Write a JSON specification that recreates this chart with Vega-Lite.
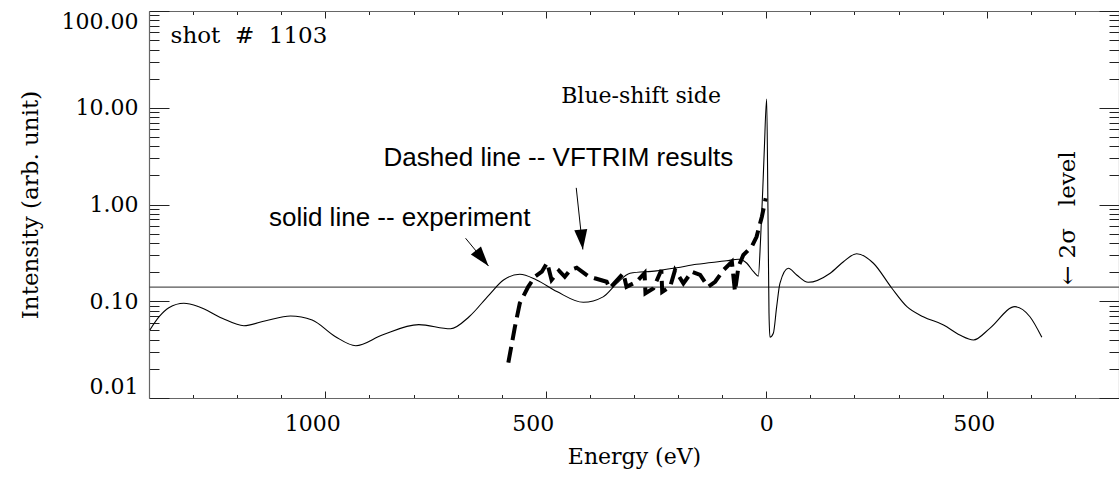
{
  "$schema": "https://vega.github.io/schema/vega-lite/v6.json",
  "width": 970,
  "height": 387,
  "autosize": "none",
  "padding": {"left": 149, "top": 11, "right": 0, "bottom": 82},
  "background": "white",
  "config": {"view": {"stroke": null}, "axis": {"grid": false}},
  "datasets": {
    "experiment": [
      {"E": -1398, "I": 0.0505}, {"E": -1377, "I": 0.0692}, {"E": -1355, "I": 0.0857}, {"E": -1321, "I": 0.0953},
      {"E": -1287, "I": 0.0879}, {"E": -1234, "I": 0.0667}, {"E": -1185, "I": 0.0559}, {"E": -1135, "I": 0.063},
      {"E": -1079, "I": 0.0704}, {"E": -1030, "I": 0.064}, {"E": -977, "I": 0.043}, {"E": -931, "I": 0.0347},
      {"E": -871, "I": 0.0448}, {"E": -788, "I": 0.0573}, {"E": -716, "I": 0.052}, {"E": -674, "I": 0.0692},
      {"E": -629, "I": 0.116}, {"E": -596, "I": 0.166}, {"E": -559, "I": 0.19}, {"E": -521, "I": 0.166},
      {"E": -475, "I": 0.126}, {"E": -415, "I": 0.0975}, {"E": -370, "I": 0.111}, {"E": -339, "I": 0.153},
      {"E": -309, "I": 0.195}, {"E": -249, "I": 0.206}, {"E": -203, "I": 0.222}, {"E": -158, "I": 0.241},
      {"E": -90, "I": 0.262}, {"E": -63, "I": 0.272}, {"E": -44, "I": 0.247}, {"E": -29, "I": 0.202},
      {"E": -18, "I": 0.182}, {"E": -13, "I": 0.43}, {"E": -8, "I": 1.41}, {"E": -4.5, "I": 3.66},
      {"E": 0.9, "I": 12.3}, {"E": 3.9, "I": 0.81}, {"E": 6.2, "I": 0.075}, {"E": 8.4, "I": 0.0424},
      {"E": 16, "I": 0.0466}, {"E": 23.6, "I": 0.0879}, {"E": 31, "I": 0.153}, {"E": 50, "I": 0.219},
      {"E": 69, "I": 0.187}, {"E": 95, "I": 0.157}, {"E": 145, "I": 0.195}, {"E": 175, "I": 0.256},
      {"E": 205, "I": 0.31}, {"E": 243, "I": 0.247}, {"E": 284, "I": 0.138}, {"E": 319, "I": 0.0879},
      {"E": 356, "I": 0.0692}, {"E": 402, "I": 0.0569}, {"E": 439, "I": 0.0448}, {"E": 470, "I": 0.0398},
      {"E": 507, "I": 0.0525}, {"E": 564, "I": 0.0879}, {"E": 598, "I": 0.0692}, {"E": 625, "I": 0.0424}
    ],
    "vftrim": [
      {"E": -585, "I": 0.0232}, {"E": -570, "I": 0.0546}, {"E": -559, "I": 0.0953}, {"E": -540, "I": 0.141},
      {"E": -525, "I": 0.179}, {"E": -509, "I": 0.202}, {"E": -497, "I": 0.25}, {"E": -487, "I": 0.166},
      {"E": -470, "I": 0.207}, {"E": -457, "I": 0.179}, {"E": -445, "I": 0.21}, {"E": -430, "I": 0.222},
      {"E": -404, "I": 0.182}, {"E": -389, "I": 0.173}, {"E": -362, "I": 0.159}, {"E": -355, "I": 0.136},
      {"E": -324, "I": 0.195}, {"E": -317, "I": 0.141}, {"E": -294, "I": 0.159}, {"E": -276, "I": 0.195},
      {"E": -274, "I": 0.121}, {"E": -256, "I": 0.136}, {"E": -238, "I": 0.21}, {"E": -236, "I": 0.125},
      {"E": -218, "I": 0.141}, {"E": -207, "I": 0.21}, {"E": -188, "I": 0.153}, {"E": -169, "I": 0.202},
      {"E": -150, "I": 0.187}, {"E": -132, "I": 0.141}, {"E": -116, "I": 0.159}, {"E": -97, "I": 0.21},
      {"E": -78, "I": 0.256}, {"E": -71, "I": 0.126}, {"E": -63, "I": 0.229}, {"E": -52, "I": 0.301},
      {"E": -33, "I": 0.366}, {"E": -22, "I": 0.464}, {"E": -10, "I": 0.748}, {"E": -1.3, "I": 1.16}
    ],
    "arrows": [
      {"id": 1, "E": -682, "I": 0.448, "E2": -630, "I2": 0.231},
      {"id": 2, "E": -431, "I": 1.486, "E2": -416, "I2": 0.343}
    ]
  },
  "layer": [
    {
      "data": {"values": [{"I": 0.14}]},
      "mark": {"type": "rule", "color": "#555", "strokeWidth": 1.2},
      "encoding": {
        "y": {"field": "I", "type": "quantitative", "scale": {"type": "log", "domain": [0.01, 100], "nice": false}, "axis": null}
      }
    },
    {
      "data": {"name": "experiment"},
      "mark": {"type": "line", "color": "black", "strokeWidth": 1.1, "interpolate": "monotone"},
      "encoding": {
        "x": {
          "field": "E", "type": "quantitative",
          "scale": {"domain": [-1400, 800], "nice": false, "zero": false},
          "axis": {
            "orient": "bottom",
            "values": [-1300, -1200, -1100, -1000, -900, -800, -700, -600, -500, -400, -300, -200, -100, 0, 100, 200, 300, 400, 500, 600, 700],
            "labelExpr": "datum.value % 500 == 0 ? format(abs(datum.value), 'd') : ''",
            "tickSize": {"condition": {"test": "datum.value % 500 == 0", "value": -7}, "value": -3.5},
            "tickColor": "#222", "tickWidth": 1,
            "domainColor": "#666", "domainWidth": 1.2,
            "labelPadding": 22, "labelFlush": false, "labelOverlap": false, "labelBound": false,
            "labelOffset": {"condition": {"test": "datum.value == 0", "value": 0}, "value": -13},
            "labelFont": "DejaVu Serif", "labelFontSize": 22, "labelColor": "black",
            "title": "Energy (eV)", "titleFont": "DejaVu Serif", "titleFontSize": 22, "titleFontWeight": "normal",
            "titleColor": "black", "titleX": 485, "titleY": 58, "titleBaseline": "middle", "titleAlign": "center"
          }
        },
        "y": {
          "field": "I", "type": "quantitative",
          "scale": {"type": "log", "domain": [0.01, 100], "nice": false},
          "axis": {
            "orient": "left",
            "values": [0.01, 0.02, 0.03, 0.04, 0.05, 0.06, 0.07, 0.08, 0.09, 0.1, 0.2, 0.3, 0.4, 0.5, 0.6, 0.7, 0.8, 0.9, 1, 2, 3, 4, 5, 6, 7, 8, 9, 10, 20, 30, 40, 50, 60, 70, 80, 90, 100],
            "labelExpr": "abs(log(datum.value)/LN10 - round(log(datum.value)/LN10)) < 0.001 ? format(datum.value, '.2f') : ''",
            "tickSize": {"condition": {"test": "abs(log(datum.value)/LN10 - round(log(datum.value)/LN10)) < 0.001", "value": -20}, "value": -10},
            "tickColor": "#222", "tickWidth": 1,
            "domainColor": "#666", "domainWidth": 1.2,
            "labelPadding": 31, "labelFlush": true, "labelOverlap": false, "labelBound": false,
            "labelFont": "DejaVu Serif", "labelFontSize": 22, "labelColor": "black",
            "title": "Intensity (arb. unit)", "titleFont": "DejaVu Serif", "titleFontSize": 23, "titleFontWeight": "normal",
            "titleColor": "black", "titleX": -119, "titleY": 193.5, "titleAngle": 270, "titleBaseline": "middle", "titleAlign": "center"
          }
        }
      }
    },
    {
      "data": {"name": "vftrim"},
      "mark": {"type": "line", "color": "black", "strokeWidth": 4, "strokeDash": [16, 7], "strokeCap": "butt"},
      "encoding": {
        "x": {
          "field": "E", "type": "quantitative",
          "scale": {"domain": [-1400, 800], "nice": false, "zero": false},
          "axis": {
            "orient": "top",
            "values": [-1300, -1200, -1100, -1000, -900, -800, -700, -600, -500, -400, -300, -200, -100, 0, 100, 200, 300, 400, 500, 600, 700],
            "labels": false, "title": null,
            "tickSize": {"condition": {"test": "datum.value % 500 == 0", "value": -7}, "value": -3.5},
            "tickColor": "#222", "tickWidth": 1,
            "domainColor": "#666", "domainWidth": 1.2
          }
        },
        "y": {
          "field": "I", "type": "quantitative",
          "scale": {"type": "log", "domain": [0.01, 100], "nice": false},
          "axis": {
            "orient": "right",
            "values": [0.01, 0.02, 0.03, 0.04, 0.05, 0.06, 0.07, 0.08, 0.09, 0.1, 0.2, 0.3, 0.4, 0.5, 0.6, 0.7, 0.8, 0.9, 1, 2, 3, 4, 5, 6, 7, 8, 9, 10, 20, 30, 40, 50, 60, 70, 80, 90, 100],
            "labels": false, "title": null,
            "tickSize": {"condition": {"test": "abs(log(datum.value)/LN10 - round(log(datum.value)/LN10)) < 0.001", "value": -20}, "value": -10},
            "tickColor": "#222", "tickWidth": 1,
            "domainColor": "#666", "domainWidth": 1.2
          }
        }
      }
    },
    {
      "data": {"name": "arrows"},
      "mark": {"type": "rule", "color": "black", "strokeWidth": 1},
      "encoding": {
        "x": {"field": "E", "type": "quantitative", "scale": {"domain": [-1400, 800], "nice": false, "zero": false}, "axis": null},
        "y": {"field": "I", "type": "quantitative", "scale": {"type": "log", "domain": [0.01, 100], "nice": false}, "axis": null},
        "x2": {"field": "E2"},
        "y2": {"field": "I2"}
      }
    },
    {
      "data": {"name": "arrows"},
      "mark": {"type": "point", "shape": "M0,0 L-0.65,-2 L0.65,-2 Z", "filled": true, "color": "black", "opacity": 1, "size": 400},
      "encoding": {
        "x": {"field": "E2", "type": "quantitative", "scale": {"domain": [-1400, 800], "nice": false, "zero": false}, "axis": null},
        "y": {"field": "I2", "type": "quantitative", "scale": {"type": "log", "domain": [0.01, 100], "nice": false}, "axis": null},
        "angle": {"condition": {"test": "datum.id == 1", "value": -39}, "value": -6}
      }
    },
    {
      "data": {"values": [{"E": -1351, "I": 46.4, "note": "shot\u00a0\u00a0#\u00a0\u00a01103"}]},
      "mark": {"type": "text", "font": "DejaVu Serif", "fontSize": 23, "align": "left", "baseline": "alphabetic", "color": "black"},
      "encoding": {
        "x": {"field": "E", "type": "quantitative", "scale": {"domain": [-1400, 800], "nice": false, "zero": false}, "axis": null},
        "y": {"field": "I", "type": "quantitative", "scale": {"type": "log", "domain": [0.01, 100], "nice": false}, "axis": null},
        "text": {"field": "note"}
      }
    },
    {
      "data": {"values": [{"E": -284, "I": 11.2, "note": "Blue-shift side"}]},
      "mark": {"type": "text", "font": "DejaVu Serif", "fontSize": 22, "align": "center", "baseline": "alphabetic", "color": "black"},
      "encoding": {
        "x": {"field": "E", "type": "quantitative", "scale": {"domain": [-1400, 800], "nice": false, "zero": false}, "axis": null},
        "y": {"field": "I", "type": "quantitative", "scale": {"type": "log", "domain": [0.01, 100], "nice": false}, "axis": null},
        "text": {"field": "note"}
      }
    },
    {
      "data": {"values": [{"E": -1128, "I": 0.6, "note": "solid line -- experiment"}]},
      "mark": {"type": "text", "font": "Liberation Sans", "fontSize": 26, "align": "left", "baseline": "alphabetic", "color": "black"},
      "encoding": {
        "x": {"field": "E", "type": "quantitative", "scale": {"domain": [-1400, 800], "nice": false, "zero": false}, "axis": null},
        "y": {"field": "I", "type": "quantitative", "scale": {"type": "log", "domain": [0.01, 100], "nice": false}, "axis": null},
        "text": {"field": "note"}
      }
    },
    {
      "data": {"values": [{"E": -75, "I": 2.5, "note": "Dashed line -- VFTRIM results"}]},
      "mark": {"type": "text", "font": "Liberation Sans", "fontSize": 26, "align": "right", "baseline": "alphabetic", "color": "black"},
      "encoding": {
        "x": {"field": "E", "type": "quantitative", "scale": {"domain": [-1400, 800], "nice": false, "zero": false}, "axis": null},
        "y": {"field": "I", "type": "quantitative", "scale": {"type": "log", "domain": [0.01, 100], "nice": false}, "axis": null},
        "text": {"field": "note"}
      }
    },
    {
      "data": {"values": [{"E": 684, "I": 0.147, "note": "←\u00a02σ\u00a0\u00a0\u00a0level"}]},
      "mark": {"type": "text", "font": "DejaVu Serif", "fontSize": 23, "align": "left", "baseline": "middle", "angle": 270, "color": "black"},
      "encoding": {
        "x": {"field": "E", "type": "quantitative", "scale": {"domain": [-1400, 800], "nice": false, "zero": false}, "axis": null},
        "y": {"field": "I", "type": "quantitative", "scale": {"type": "log", "domain": [0.01, 100], "nice": false}, "axis": null},
        "text": {"field": "note"}
      }
    }
  ],
  "resolve": {"axis": {"x": "independent", "y": "independent"}}
}
